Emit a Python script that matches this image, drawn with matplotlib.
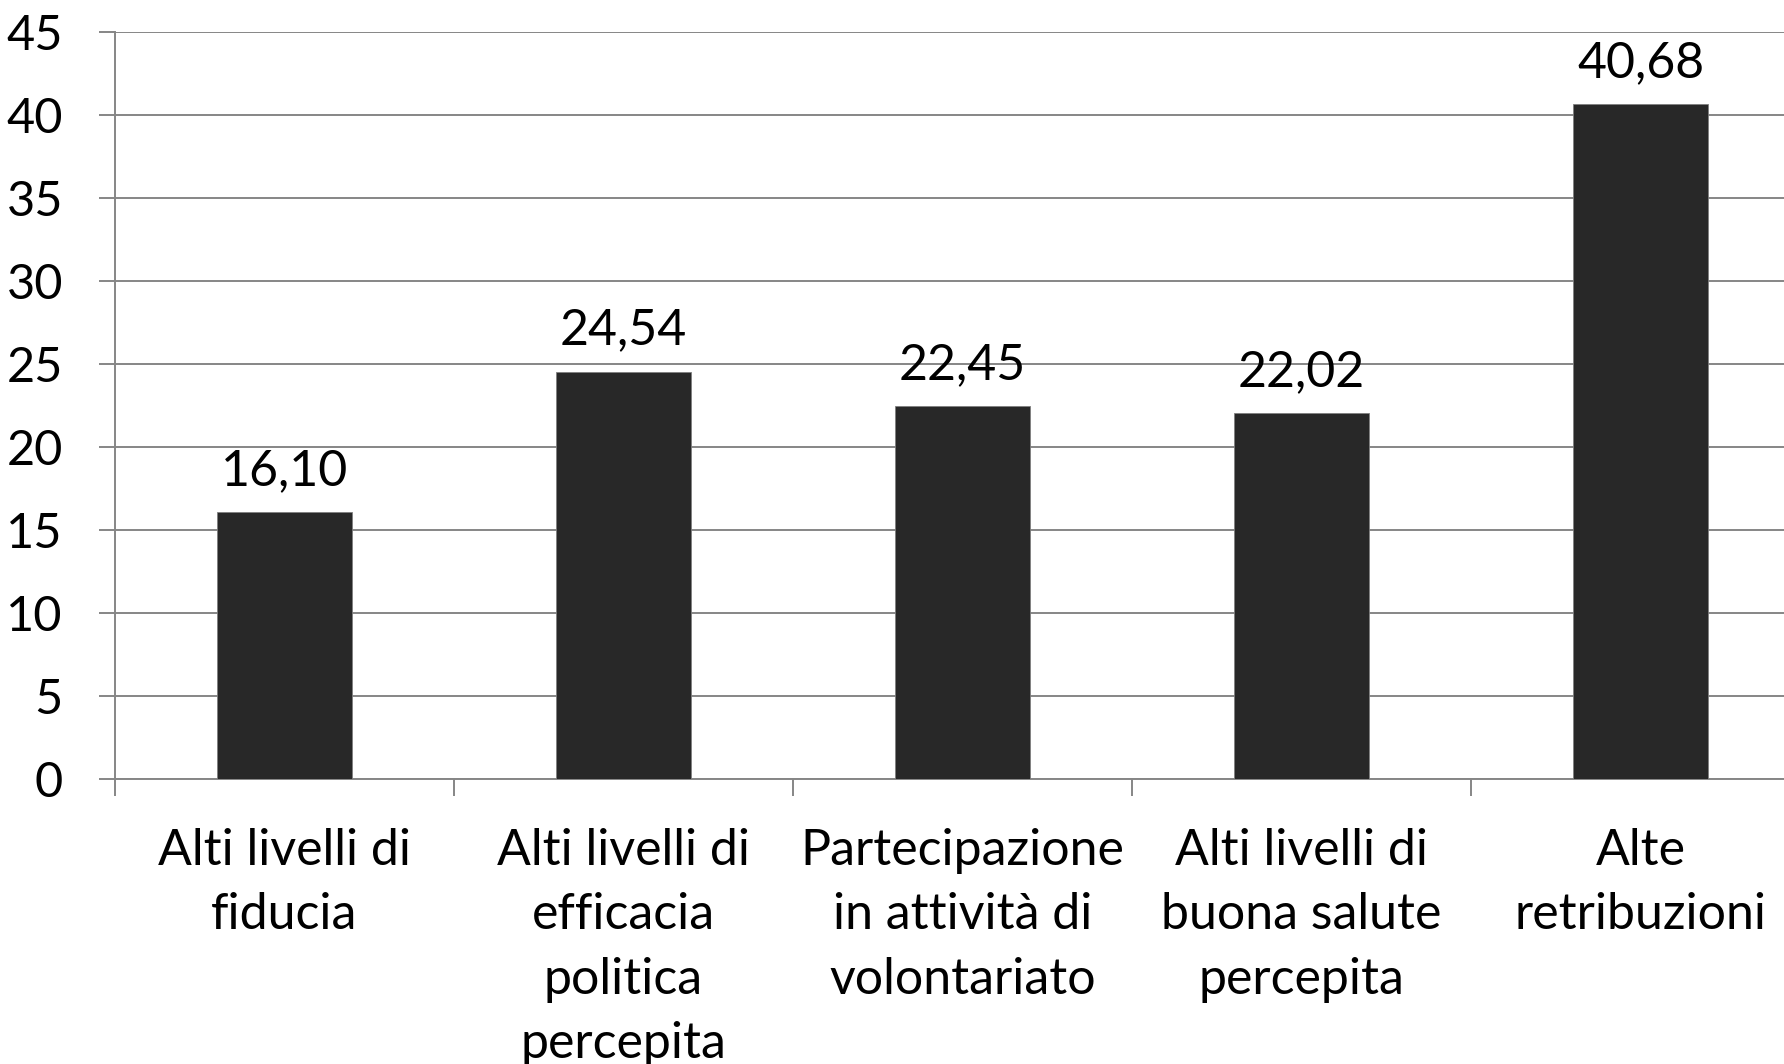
import matplotlib
matplotlib.use("Agg")
import matplotlib.pyplot as plt

categories = [
    "Alti livelli di\nfiducia",
    "Alti livelli di\nefficacia\npolitica\npercepita",
    "Partecipazione\nin attività di\nvolontariato",
    "Alti livelli di\nbuona salute\npercepita",
    "Alte\nretribuzioni",
]
values = [16.10, 24.54, 22.45, 22.02, 40.68]
yticks = [0, 5, 10, 15, 20, 25, 30, 35, 40, 45]

plt.rcParams["font.family"] = ["Lato", "DejaVu Sans"]
grid_col = "#868686"

fig = plt.figure(figsize=(17.84, 10.64), dpi=100)
ax = fig.add_axes([115 / 1784, 285 / 1064, 1695 / 1784, 747 / 1064])

x = list(range(len(categories)))
bars = ax.bar(x, values, width=0.4, color="#282828", edgecolor="#7f7f7f",
              linewidth=0.6, zorder=3)
ax.bar_label(bars, labels=[f"{v:.2f}".replace(".", ",") for v in values],
             padding=13, fontsize=36)

ax.set_xlim(-0.5, len(categories) - 0.5)
ax.set_ylim(0, 45)
ax.set_yticks(yticks)
ax.set_yticklabels([str(t) for t in yticks])
ax.yaxis.grid(True, color=grid_col, linewidth=1.4, zorder=0)

# category boundaries as x ticks
ax.set_xticks([i - 0.5 for i in range(len(categories) + 1)])
ax.set_xticklabels([])
ax.set_xticks(x, minor=True)
ax.set_xticklabels(categories, minor=True, fontsize=36, linespacing=1.5)
ax.tick_params(axis="x", which="minor", length=0, pad=35)
ax.tick_params(axis="x", which="major", length=12, width=1.4, color=grid_col)
ax.tick_params(axis="y", length=11.5, width=1.4, color=grid_col, pad=26,
               labelsize=35)

for side in ["top", "right"]:
    ax.spines[side].set_visible(False)
for side in ["left", "bottom"]:
    ax.spines[side].set_color(grid_col)
    ax.spines[side].set_linewidth(1.4)

fig.savefig("out.png", dpi=100)
